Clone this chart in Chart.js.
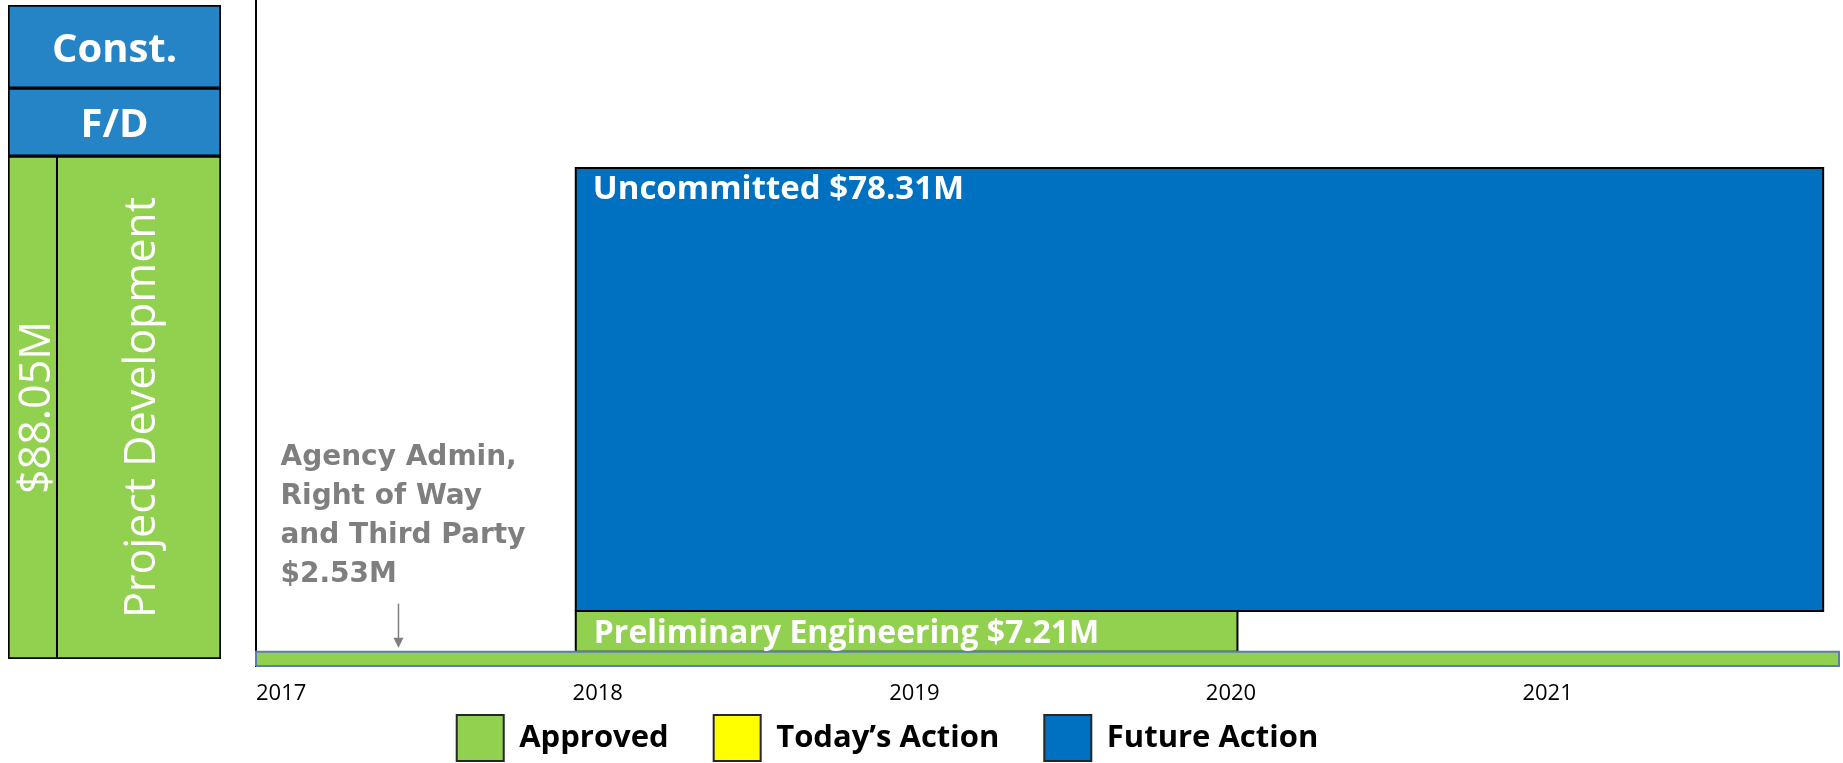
<!DOCTYPE html>
<html>
<head>
<meta charset="utf-8">
<script src="https://cdn.jsdelivr.net/npm/chart.js@4/dist/chart.umd.min.js"></script>
<style>
  html, body { margin: 0; padding: 0; background: #fff; overflow: hidden; width: 1843px; height: 763px; }
  #main { position: absolute; left: -64px; top: 0; width: 1907px; height: 806px; }
  #side { position: absolute; left: 0; top: 0; width: 230px; height: 665px; }
</style>
</head>
<body>
<div id="main"><canvas id="mainChart"></canvas></div>
<div id="side"><canvas id="sideChart"></canvas></div>
<script>
// timeline axis
const years = [2017, 2018, 2019, 2020, 2021];
const xMin = 2017;
const xMax = 2022;
const yMax = 117.75; // $M at top of plot

// funding segments, stacked from the bottom ($M)
const segNames = ['Agency Admin, Right of Way and Third Party', 'Preliminary Engineering', 'Uncommitted'];
const segAmounts = [2.53, 7.21, 78.31];
const segStart = [2017, 2018.01, 2018.01];
const segEnd = [2022, 2020.1, 2021.95];
const segStatus = ['Approved', 'Approved', 'Future Action'];
const segLabelPos = ['callout', 'bottom', 'top'];
const calloutLines = ['Agency Admin,', 'Right of Way', 'and Third Party'];
const calloutX = 2017.45;
const totalAmount = 88.05;

// legend
const legendLabels = ['Approved', 'Today\u2019s Action', 'Future Action'];
const legendColors = ['#92D050', '#FFFF00', '#0070C0'];

// phase column on the left (share of column height, %)
const phaseLabels = ['Project Development', 'F/D', 'Const.'];
const phaseShares = [76.9, 10.4, 12.7];
const phaseColors = ['#92D050', '#2584C6', '#2584C6'];

const statusColor = {};
legendLabels.forEach((l, i) => { statusColor[l] = legendColors[i]; });

const bottoms = [];
let acc = 0;
segAmounts.forEach(a => { bottoms.push(acc); acc += a; });

const datasets = segNames.map((name, i) => {
  const b = bottoms[i];
  const t = b + segAmounts[i];
  const s = segStart[i];
  const e = segEnd[i];
  return {
    label: name,
    data: [{x: s, y: b}, {x: s, y: t}, {x: e, y: t}, {x: e, y: b}, {x: s, y: b}],
    backgroundColor: statusColor[segStatus[i]],
    borderColor: i === 0 ? '#5B7DB1' : '#000',
    borderWidth: 2,
    fill: 'shape',
    pointRadius: 0,
    tension: 0,
    clip: false,
  };
});

const segmentLabels = {
  id: 'segmentLabels',
  afterDatasetsDraw(chart) {
    const {ctx} = chart;
    const xs = chart.scales.x;
    const ys = chart.scales.y;
    ctx.save();
    segNames.forEach((name, i) => {
      const left = xs.getPixelForValue(segStart[i]);
      const top = ys.getPixelForValue(bottoms[i] + segAmounts[i]);
      const bottom = ys.getPixelForValue(bottoms[i]);
      const money = '$' + segAmounts[i].toFixed(2) + 'M';
      ctx.textAlign = 'left';
      ctx.textBaseline = 'alphabetic';
      if (segLabelPos[i] === 'top') {
        ctx.font = 'bold 33px "Open Sans"';
        ctx.fillStyle = '#fff';
        ctx.fillText(name + ' ' + money, left + 17, top + 31);
      } else if (segLabelPos[i] === 'bottom') {
        ctx.font = 'bold 32px "Open Sans"';
        ctx.fillStyle = '#fff';
        ctx.fillText(name + ' ' + money, left + 18, bottom - 9);
      } else {
        const ax = xs.getPixelForValue(calloutX);
        const tip = top - 4;
        ctx.strokeStyle = '#7F7F7F';
        ctx.fillStyle = '#7F7F7F';
        ctx.lineWidth = 1.5;
        ctx.beginPath();
        ctx.moveTo(ax, tip - 44);
        ctx.lineTo(ax, tip - 8);
        ctx.stroke();
        ctx.beginPath();
        ctx.moveTo(ax - 5, tip - 10);
        ctx.lineTo(ax + 5, tip - 10);
        ctx.lineTo(ax, tip);
        ctx.closePath();
        ctx.fill();
        ctx.font = 'bold 28px "DejaVu Sans"';
        const lines = calloutLines.concat([money]);
        const lastBase = top - 70;
        lines.forEach((ln, k) => {
          ctx.fillText(ln, ax - 118, lastBase - (lines.length - 1 - k) * 39);
        });
      }
    });
    ctx.restore();
  }
};

// legend sits closer to the tick labels than its item spacing
const legendLift = {
  id: 'legendLift',
  afterLayout(chart) {
    const lg = chart.legend;
    const shift = lg.options.labels.padding - 10;
    lg.top -= shift;
    lg.bottom -= shift;
  }
};

new Chart(document.getElementById('mainChart'), {
  type: 'line',
  data: { datasets },
  plugins: [segmentLabels, legendLift],
  options: {
    responsive: true,
    maintainAspectRatio: false,
    animation: false,
    events: [],
    layout: { padding: { left: 0, right: 4, top: 0, bottom: 0 } },
    scales: {
      x: {
        type: 'linear',
        min: xMin,
        max: xMax,
        grid: { display: false, drawTicks: false },
        border: { display: false },
        ticks: {
          stepSize: 1,
          align: 'start',
          padding: 15,
          color: '#000',
          font: { family: 'Open Sans', size: 22 },
          callback: v => (years.includes(v) ? String(v) : ''),
        },
        afterFit: s => {
          s.height = 39;
          s.paddingLeft = 0;
          s.paddingRight = 0;
        },
      },
      y: {
        min: 0,
        max: yMax,
        grid: { display: false, drawTicks: false },
        border: { display: true, color: '#000', width: 2 },
        ticks: { display: false },
        afterFit: s => { s.width = 320; },
      },
    },
    plugins: {
      tooltip: { enabled: false },
      legend: {
        position: 'bottom',
        onClick: () => {},
        labels: {
          boxWidth: 47,
          boxHeight: 46,
          padding: 45,
          color: '#000',
          font: { family: 'Open Sans', weight: 'bold', size: 31 },
          generateLabels: () => legendLabels.map((text, i) => ({
            text,
            fillStyle: legendColors[i],
            strokeStyle: '#262626',
            lineWidth: 2,
            hidden: false,
          })),
        },
      },
    },
  },
});

// left phase column
const phaseText = {
  id: 'phaseText',
  afterDatasetsDraw(chart) {
    const {ctx} = chart;
    ctx.save();
    ctx.fillStyle = '#fff';
    chart.data.datasets.forEach((ds, i) => {
      const bar = chart.getDatasetMeta(i).data[0];
      const left = bar.x - bar.width / 2;
      const right = bar.x + bar.width / 2;
      const top = Math.min(bar.y, bar.base);
      const bottom = Math.max(bar.y, bar.base);
      const cy = (top + bottom) / 2;
      if (i === 0) {
        const split = left + bar.width * 0.23;
        ctx.strokeStyle = '#000';
        ctx.lineWidth = 2;
        ctx.beginPath();
        ctx.moveTo(split, top);
        ctx.lineTo(split, bottom);
        ctx.stroke();
        ctx.font = '43px "Open Sans"';
        ctx.textAlign = 'center';
        ctx.textBaseline = 'alphabetic';
        const cap = 43 * 0.714;
        [['$' + totalAmount.toFixed(2) + 'M', (left + split) / 2 + 2], [ds.label, (split + right) / 2 + 1]].forEach(([t, cx]) => {
          ctx.save();
          ctx.translate(cx, cy);
          ctx.rotate(-Math.PI / 2);
          ctx.fillText(t, 0, cap / 2);
          ctx.restore();
        });
      } else {
        ctx.font = 'bold 40px "Open Sans"';
        ctx.textAlign = 'center';
        ctx.textBaseline = 'alphabetic';
        ctx.fillText(ds.label, (left + right) / 2, cy + 40 * 0.714 / 2 + 1);
      }
    });
    ctx.restore();
  }
};

new Chart(document.getElementById('sideChart'), {
  type: 'bar',
  data: {
    labels: ['phase'],
    datasets: phaseLabels.map((label, i) => ({
      label,
      data: [phaseShares[i]],
      backgroundColor: phaseColors[i],
      borderColor: '#000',
      borderWidth: 2,
      borderSkipped: false,
      barPercentage: 1,
      categoryPercentage: 1,
    })),
  },
  plugins: [phaseText],
  options: {
    responsive: true,
    maintainAspectRatio: false,
    animation: false,
    events: [],
    layout: { padding: { left: 8, right: 9, top: 5, bottom: 6 } },
    scales: {
      x: { display: false, stacked: true },
      y: { display: false, stacked: true, min: 0, max: 100 },
    },
    plugins: { legend: { display: false }, tooltip: { enabled: false } },
  },
});
</script>
</body>
</html>
